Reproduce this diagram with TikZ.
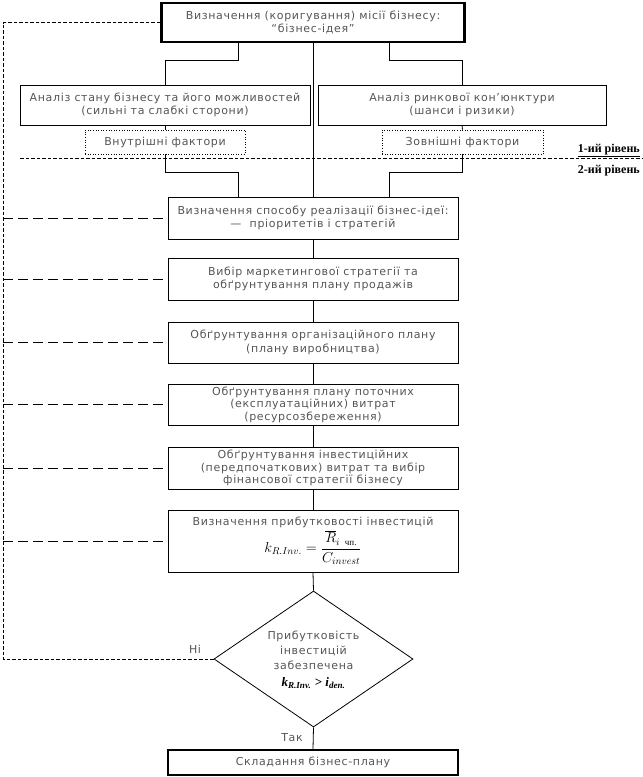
\documentclass[tikz,border=0pt]{standalone}
\usepackage{fontspec}
\setmainfont{DejaVu Sans}[LetterSpace=6]
\newfontfamily\serif{Liberation Serif}
\usepackage{amsmath}
\usetikzlibrary{shapes.geometric,calc}
\definecolor{txt}{HTML}{555555}
\tikzset{
  box/.style={draw, line width=0.8pt, rectangle, inner sep=0pt, align=center,
    text=txt, font=\fontsize{11}{13.5}\selectfont, minimum width=290pt},
  thickbox/.style={box, line width=2.4pt},
  factor/.style={draw, dotted, line width=0.6pt, rectangle, inner sep=0pt, align=center,
    text=txt, font=\fontsize{11}{13.5}\selectfont},
  conn/.style={line width=0.8pt},
  finedash/.style={line width=0.7pt, dash pattern=on 3.5pt off 2pt},
  longdash/.style={line width=0.8pt, dash pattern=on 10pt off 5pt},
  lbl/.style={inner sep=0pt, text=txt, font=\fontsize{11}{13.5}\selectfont},
  lvl/.style={inner sep=0pt, font=\serif\bfseries\fontsize{12}{13}\selectfont}
}
\begin{document}
\begin{tikzpicture}[x=1pt,y=-1pt]
\useasboundingbox (0,0) rectangle (643,777);
% boxes
\node[thickbox, minimum width=303pt, minimum height=39pt] (top) at (313,22.5)
  {Визначення (коригування) місії бізнесу:\\“бізнес-ідея”};
\node[box, minimum width=290pt, minimum height=40pt] (an1) at (165,105)
  {Аналіз стану бізнесу та його можливостей\\(сильні та слабкі сторони)};
\node[box, minimum width=288pt, minimum height=40pt] (an2) at (462,105)
  {Аналіз ринкової кон’юнктури\\(шанси і ризики)};
\node[factor, minimum width=160pt, minimum height=24pt] (int) at (165,142) {Внутрішні фактори};
\node[factor, minimum width=161pt, minimum height=24pt] (ext) at (462.5,142) {Зовнішні фактори};
\node[box, minimum height=42pt] (s3) at (313,218)
  {Визначення способу реалізації бізнес-ідеї:\\—\ \ пріоритетів і стратегій};
\node[box, minimum height=42pt] (s4) at (313,279)
  {Вибір маркетингової стратегії та\\обґрунтування плану продажів};
\node[box, minimum height=41pt] (s5) at (313,342.5)
  {Обґрунтування організаційного плану\\(плану виробництва)};
\node[box, minimum height=41pt, font=\fontsize{11}{12.5}\selectfont] (s6) at (313,404.5)
  {Обґрунтування плану поточних\\(експлуатаційних) витрат\\(ресурсозбереження)};
\node[box, minimum height=42pt, font=\fontsize{11}{12.5}\selectfont] (s7) at (313,468)
  {Обґрунтування інвестиційних\\(передпочаткових) витрат та вибір\\фінансової стратегії бізнесу};
\node[box, minimum height=62pt] (s8) at (313,541)
  {Визначення прибутковості інвестицій\\[1pt]
   {\color{black}\fontsize{14}{16}\selectfont $k_{R.Inv.}=\dfrac{\overline{R}_{i\ \mbox{\serif\fontsize{9}{9}\selectfont чп.}}}{C_{invest}}$}};
\node[draw, diamond, line width=0.8pt, inner sep=0pt, minimum width=199pt, minimum height=136pt] (dia) at (313.5,659) {};
\node[lbl, align=center, font=\fontsize{11}{15}\selectfont] (diat) at (313.5,660)
  {Прибутковість\\інвестицій\\забезпечена\\[2pt]
   {\color{black}\serif\bfseries\itshape\fontsize{13}{14}\selectfont k\textsubscript{R.Inv.} > i\textsubscript{den.}}};
\node[thickbox, minimum height=25pt] (fin) at (313,762.5) {Складання бізнес-плану};
% labels
\node[lbl] (no) at (195,649) {Ні};
\node[lbl] (yes) at (292,738) {Так};
\node[lvl, anchor=base east] (lv1) at (640,152) {\underline{1-ий рівень}};
\node[lvl, anchor=base east] (lv2) at (640,173) {2-ий рівень};
\coordinate (lvL) at (20,158);
\coordinate (lvR) at (643,158);
\draw[finedash] (lvL) -- (lvR);
% connectors
\draw[conn] (top.south) -- (s3.north);
\draw[conn] ([xshift=-75pt]top.south) -- ++(0,17) -| (an1.north);
\draw[conn] ([xshift=76pt]top.south) -- ++(0,17) -| (an2.north);
\draw[conn] (an1.south) -- (int.north);
\draw[conn] (an2.south) -- (ext.north);
\draw[conn] (int.south) -- ++(0,18) -| ([xshift=-75pt]s3.north);
\draw[conn] (ext.south) -- ++(0,18) -| ([xshift=76pt]s3.north);
\draw[conn] (s3.south) -- (s4.north);
\draw[conn] (s4.south) -- (s5.north);
\draw[conn] (s5.south) -- (s6.north);
\draw[conn] (s6.south) -- (s7.north);
\draw[conn] (s7.south) -- (s8.north);
\draw[conn] (s8.south) -- (dia.north);
\draw[conn] (dia.south) -- (fin.north);
% feedback
\coordinate (fbx) at (3,0);
\draw[finedash] (top.west) -| (fbx |- dia.west) -- (dia.west);
\foreach \n in {s3,s4,s5,s6,s7,s8}
  \draw[longdash] (fbx |- \n.west) -- (\n.west);
\end{tikzpicture}
\end{document}
